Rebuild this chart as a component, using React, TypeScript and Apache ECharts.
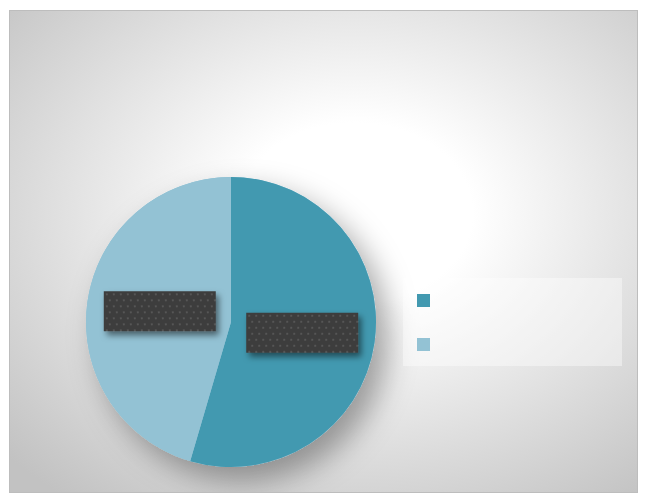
import React, { useEffect, useRef } from "react";
import * as echarts from "echarts";

const categories = ["A", "B"];
const values = [6, 5];
const colors = ["#4299b0", "#93c2d4"];

function makePattern(w: number, h: number): HTMLCanvasElement {
  const c = document.createElement("canvas");
  c.width = w;
  c.height = h;
  const ctx = c.getContext("2d")!;
  ctx.fillStyle = "#3d3d3d";
  ctx.fillRect(0, 0, w, h);
  ctx.fillStyle = "#565656";
  for (let y = 2, row = 0; y < h; y += 6, row++) {
    for (let x = row % 2 ? 5 : 2; x < w; x += 7) {
      ctx.fillRect(x, y, 2, 2);
    }
  }
  return c;
}

export default function App() {
  const ref = useRef<HTMLDivElement>(null);
  useEffect(() => {
    if (!ref.current) return;
    const chart = echarts.init(ref.current, undefined, { renderer: "svg" });
    const pattern = makePattern(112, 40);
    const center = [221, 311];
    const offsets = [[-3.5, 0], [3.5, 0]];
    chart.setOption({
      animation: false,
      backgroundColor: {
        type: "radial",
        x: 0.55,
        y: 0.42,
        r: 0.75,
        colorStops: [
          { offset: 0, color: "#ffffff" },
          { offset: 0.25, color: "#ffffff" },
          { offset: 1, color: "#c2c2c2" },
        ],
      },
      legend: {
        orient: "vertical",
        left: 393,
        top: 267,
        itemWidth: 13,
        itemHeight: 13,
        itemGap: 31,
        icon: "rect",
        formatter: () => "",
        backgroundColor: "rgba(255,255,255,0.4)",
        padding: [16, 192, 15, 14],
        data: categories,
      },
      series: [
        {
          type: "pie",
          name: "shadow",
          silent: true,
          center,
          radius: 145,
          data: [{ name: "shadow", value: 1, itemStyle: { color: colors[1] } }],
          itemStyle: {
            shadowBlur: 30,
            shadowOffsetX: 12,
            shadowOffsetY: 14,
            shadowColor: "rgba(0,0,0,0.35)",
          },
          label: { show: false },
          labelLine: { show: false },
          emphasis: { disabled: true },
        },
        {
          type: "pie",
          center,
          radius: 145,
          startAngle: 90,
          clockwise: true,
          data: categories.map((c, i) => ({
            name: c,
            value: values[i],
            itemStyle: { color: colors[i] },
            label: { offset: offsets[i] },
          })),
          label: {
            show: true,
            position: "inside",
            formatter: " ",
            width: 112,
            height: 40,
            backgroundColor: { image: pattern },
            shadowBlur: 6,
            shadowOffsetX: 3,
            shadowOffsetY: 4,
            shadowColor: "rgba(0,0,0,0.5)",
          },
          labelLine: { show: false },
          emphasis: { disabled: true },
        },
      ],
    });
    return () => chart.dispose();
  }, []);
  return (
    <div
      style={{
        marginLeft: 1,
        marginTop: 2,
        width: 629,
        height: 483,
        border: "1px solid #bdbdbd",
        boxSizing: "border-box",
      }}
    >
      <div ref={ref} style={{ width: 627, height: 481 }} />
    </div>
  );
}
